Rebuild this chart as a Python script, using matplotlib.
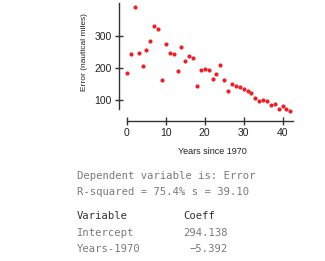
import matplotlib
matplotlib.use("Agg")
import matplotlib.pyplot as plt
from matplotlib import font_manager

years = list(range(0, 43))
error = [185, 242, 392, 246, 207, 256, 283, 331, 323, 161,
         274, 247, 245, 190, 265, 222, 238, 231, 142, 194,
         196, 193, 166, 180, 209, 161, 128, 151, 144, 140,
         134, 127, 122, 107, 95, 101, 97, 85, 88, 71,
         80, 71, 66]
x_ticks = [0, 10, 20, 30, 40]
y_ticks = [100, 200, 300]

names = {f.name for f in font_manager.fontManager.ttflist}
sans = 'Liberation Sans Narrow' if 'Liberation Sans Narrow' in names else 'Liberation Sans'

W, H = 325, 261
fig = plt.figure(figsize=(W/100, H/100), dpi=100)
ax = fig.add_axes([119/W, 1-121/H, (293-119)/W, (121-3)/H])
ax.scatter(years, error, s=9, color='#e8202a', linewidths=0, zorder=3)
ax.set_xlim(-2.05, 42.7)
ax.set_ylim(34, 403)
for s in ['top', 'right']:
    ax.spines[s].set_visible(False)
ax.spines['left'].set_bounds(72, 403)
ax.spines['bottom'].set_bounds(0, 42.7)
for s in ['left', 'bottom']:
    ax.spines[s].set_color('#333333')
    ax.spines[s].set_linewidth(1.0)
ax.set_xticks(x_ticks)
ax.set_yticks(y_ticks)
ax.tick_params(direction='inout', length=6, width=1.0, color='#333333',
               labelsize=7.5, labelcolor='#222222', pad=2)
for lab in ax.get_xticklabels() + ax.get_yticklabels():
    lab.set_family(sans)
ax.set_xlabel('Years since 1970', fontsize=6.5, family=sans, color='#222222')
ax.set_ylabel('Error (nautical miles)', fontsize=6.0, family=sans, color='#222222')
ax.xaxis.set_label_coords((212-119)/174, (121-146.5)/118)
ax.yaxis.set_label_coords((88-119)/174, (121-52)/118)
ax.set_facecolor('none')

mono = 'DejaVu Sans Mono'
gray = '#7a7a7a'
dark = '#333333'
def t(x, y, s, color=gray, ha='left', weight='normal'):
    fig.text(x/W, 1-y/H, s, family=mono, fontsize=7.6, color=color, ha=ha, va='center', weight=weight)

t(77, 176, 'Dependent variable is: Error')
t(77, 192, 'R-squared = 75.4% s = 39.10')
t(77, 216, 'Variable', color=dark)
t(183, 216, 'Coeff', color=dark)
t(77, 233, 'Intercept')
t(228, 233, '294.138', ha='right')
t(77, 249, 'Years-1970')
t(228, 249, '\u22125.392', ha='right')

fig.savefig('out.png', dpi=100)
